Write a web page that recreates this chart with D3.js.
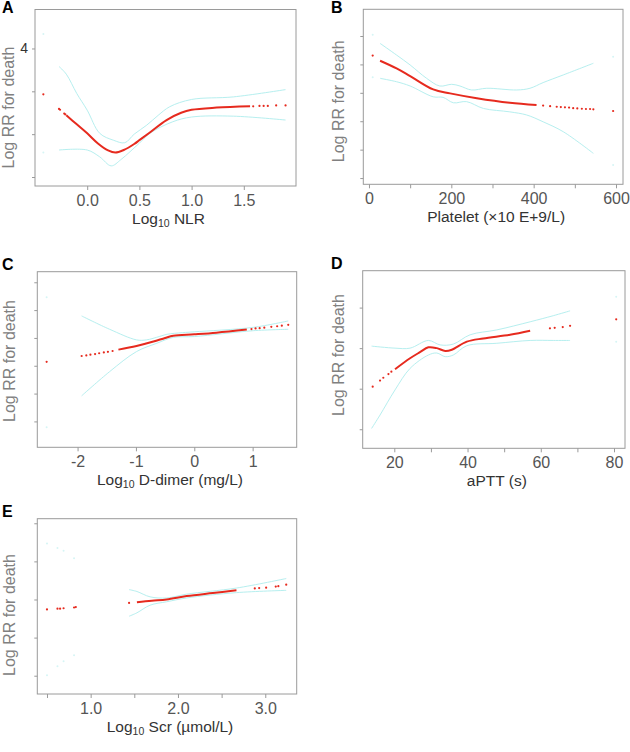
<!DOCTYPE html>
<html><head><meta charset="utf-8">
<script src="https://cdn.jsdelivr.net/npm/d3@7"></script>
<style>body{margin:0;background:#fff}svg{display:block}</style>
</head><body>
<svg id="chart" width="630" height="752"></svg>
<script>
// ---------- Panel A : Log10 NLR ----------
const A_x   = [-0.20,-0.10,0.00,0.10,0.20,0.27,0.35,0.45,0.50,0.60,0.76,0.90,1.00,1.24,1.56];
const A_fit = [2.44,2.23,2.02,1.79,1.62,1.57,1.63,1.77,1.86,2.04,2.33,2.50,2.57,2.62,2.65];
const A_ciX = [-0.27,-0.20,-0.10,0.00,0.12,0.25,0.36,0.45,0.57,0.68,0.79,1.00,1.40,1.90];
const A_hi  = [3.58,3.40,2.95,2.56,2.02,1.86,1.80,2.00,2.21,2.44,2.64,2.81,2.87,3.04];
const A_loX = [-0.27,0.00,0.12,0.23,0.32,0.41,0.50,0.60,0.82,1.00,1.40,1.90];
const A_lo  = [1.63,1.63,1.47,1.26,1.40,1.59,1.79,2.02,2.29,2.40,2.42,2.33];
const A_dotX = [-0.42,-0.27,-0.26,-0.22,-0.21,1.59,1.65,1.69,1.73,1.81,1.90];
const A_dotY = [2.93,2.59,2.57,2.48,2.46,2.65,2.66,2.66,2.66,2.67,2.67];
const A_ciDotX = [-0.42], A_ciDotLo = [1.57], A_ciDotHi = [4.34];
const A_xTicks = [0,0.5,1.0,1.5], A_xTickLabels = ["0.0","0.5","1.0","1.5"];
const A_yTicks = [1,2,3,4], A_yTickLabels = ["","","","4"];

// ---------- Panel B : Platelet ----------
const B_x   = [27,67,100,156,197,262,342,407];
const B_fit = [5.13,4.86,4.59,4.12,3.98,3.81,3.65,3.57];
const B_ciX = [27,67,100,140,172,201,221,249,286,359,391,423,472,545];
const B_hi  = [5.74,5.33,4.98,4.51,4.24,4.30,4.24,4.10,4.16,4.10,4.16,4.36,4.63,5.04];
const B_loX = [27,67,100,156,180,205,237,278,342,383,423,472,545];
const B_lo  = [4.51,4.39,4.24,3.86,3.84,3.65,3.69,3.45,3.33,3.22,2.98,2.63,1.87];
const B_dotX = [9,423,440,456,466,476,486,496,506,517,527,537,545,593];
const B_dotY = [5.31,3.55,3.53,3.51,3.50,3.49,3.48,3.46,3.45,3.44,3.43,3.43,3.42,3.36];
const B_ciDotX = [9,593], B_ciDotLo = [4.55,1.46], B_ciDotHi = [6.04,5.27];
const B_xTicks = [0,100,200,300,400,500,600], B_xTickLabels = ["0","","200","","400","","600"];
const B_yTicks = [1,2,3,4,5,6], B_yTickLabels = ["","","","","",""];

// ---------- Panel C : Log10 D-dimer ----------
const C_x   = [-1.30,-0.99,-0.70,-0.50,-0.36,0.00,0.38,0.90];
const C_fit = [3.58,3.71,3.87,4.00,4.08,4.13,4.19,4.30];
const C_ciX = [-1.93,-1.45,-0.99,-0.82,-0.60,-0.47,-0.20,0.00,1.01,1.61];
const C_hi  = [4.79,4.31,3.93,3.93,4.05,4.13,4.19,4.22,4.38,4.61];
const C_loX = [-1.93,-1.45,-0.99,-0.64,-0.36,0.00,1.01,1.61];
const C_lo  = [1.92,2.79,3.51,3.81,4.02,4.05,4.26,4.31];
const C_dotX = [-2.53,-1.93,-1.85,-1.78,-1.70,-1.63,-1.55,-1.48,-1.40,0.98,1.05,1.12,1.20,1.32,1.42,1.50,1.61];
const C_dotY = [3.14,3.35,3.37,3.40,3.42,3.45,3.48,3.50,3.53,4.32,4.34,4.35,4.37,4.40,4.42,4.44,4.47];
const C_ciDotX = [-2.53], C_ciDotLo = [0.79], C_ciDotHi = [5.46];
const C_xTicks = [-2,-1,0,1], C_xTickLabels = ["-2","-1","0","1"];
const C_yTicks = [1,2,3,4,5,6], C_yTickLabels = ["","","","","",""];

// ---------- Panel D : aPTT ----------
const D_x   = [20.2,24.3,27.0,29.3,31.6,33.9,35.7,39.8,44.3,51.6,57.1];
const D_fit = [2.48,2.75,2.90,3.02,3.00,2.93,2.96,3.16,3.24,3.33,3.43];
const D_ciX = [13.8,20.2,24.3,29.3,32.5,36.1,40.7,48.0,57.1,63.4,68.0];
const D_hi  = [3.05,3.00,3.00,3.19,3.08,3.10,3.33,3.45,3.65,3.80,3.92];
const D_loX = [13.8,16.1,20.2,24.3,29.3,31.6,33.9,36.1,39.8,48.0,57.1,63.4,68.0];
const D_lo  = [1.02,1.35,1.97,2.50,2.83,2.88,2.79,2.83,3.06,3.12,3.19,3.19,3.19];
const D_dotX = [14.1,16.1,17.0,18.4,19.2,62.5,63.8,66.0,68.0,80.6];
const D_dotY = [2.05,2.20,2.27,2.36,2.42,3.49,3.50,3.52,3.55,3.71];
const D_ciDotX = [80.6], D_ciDotLo = [3.16], D_ciDotHi = [4.27];
const D_xTicks = [20,30,40,50,60,70,80], D_xTickLabels = ["20","","40","","60","","80"];
const D_yTicks = [1,2,3,4], D_yTickLabels = ["","","",""];

// ---------- Panel E : Log10 Scr ----------
const E_x   = [1.53,1.70,1.87,2.10,2.40,2.67];
const E_fit = [2.93,2.97,3.00,3.09,3.17,3.24];
const E_ciX = [1.44,1.53,1.68,1.87,2.10,2.67,3.24];
const E_hi  = [3.26,3.21,3.07,3.04,3.14,3.30,3.55];
const E_loX = [1.44,1.53,1.68,1.87,2.10,2.67,3.24];
const E_lo  = [2.56,2.65,2.85,2.94,3.04,3.18,3.24];
const E_dotX = [0.50,0.62,0.65,0.69,0.81,0.83,1.44,2.88,2.93,3.01,3.12,3.15,3.24];
const E_dotY = [2.74,2.76,2.76,2.77,2.79,2.80,2.91,3.29,3.30,3.31,3.34,3.35,3.39];
const E_ciDotX = [0.50,0.62,0.69,0.81], E_ciDotLo = [1.01,1.25,1.38,1.54], E_ciDotHi = [4.47,4.35,4.28,4.08];
const E_xTicks = [0.5,1.0,1.5,2.0,2.5,3.0], E_xTickLabels = ["","1.0","","2.0","","3.0"];
const E_yTicks = [1,2,3,4,5], E_yTickLabels = ["","","","",""];

const yTitle = "Log RR for death";

const panels = [
  {letter:"A", box:[35,9.5,296,186], xd:[-0.5,2.0], yd:[0.79,4.91],
   x:A_x, fit:A_fit, ciX:A_ciX, hi:A_hi, loX:A_loX, lo:A_lo, dotX:A_dotX, dotY:A_dotY,
   ciDotX:A_ciDotX, ciDotLo:A_ciDotLo, ciDotHi:A_ciDotHi,
   xt:A_xTicks, xtl:A_xTickLabels, yt:A_yTicks, ytl:A_yTickLabels,
   title:["Log","10"," NLR"], ylab:[14,107.5]},
  {letter:"B", box:[363.3,9.3,623,184.3], xd:[-13.8,617], yd:[0.78,6.94],
   x:B_x, fit:B_fit, ciX:B_ciX, hi:B_hi, loX:B_loX, lo:B_lo, dotX:B_dotX, dotY:B_dotY,
   ciDotX:B_ciDotX, ciDotLo:B_ciDotLo, ciDotHi:B_ciDotHi,
   xt:B_xTicks, xtl:B_xTickLabels, yt:B_yTicks, ytl:B_yTickLabels,
   title:["Platelet (×10 E+9/L)"], ylab:[343.5,101.3]},
  {letter:"C", box:[37.3,271.7,296.7,447.3], xd:[-2.69,1.755], yd:[0.07,6.38],
   x:C_x, fit:C_fit, ciX:C_ciX, hi:C_hi, loX:C_loX, lo:C_lo, dotX:C_dotX, dotY:C_dotY,
   ciDotX:C_ciDotX, ciDotLo:C_ciDotLo, ciDotHi:C_ciDotHi,
   xt:C_xTicks, xtl:C_xTickLabels, yt:C_yTicks, ytl:C_yTickLabels,
   title:["Log","10"," D-dimer (mg/L)"], ylab:[14.5,361]},
  {letter:"D", box:[362.7,270.7,625,448.3], xd:[11.37,83.0], yd:[0.53,4.91],
   x:D_x, fit:D_fit, ciX:D_ciX, hi:D_hi, loX:D_loX, lo:D_lo, dotX:D_dotX, dotY:D_dotY,
   ciDotX:D_ciDotX, ciDotLo:D_ciDotLo, ciDotHi:D_ciDotHi,
   xt:D_xTicks, xtl:D_xTickLabels, yt:D_yTicks, ytl:D_yTickLabels,
   title:["aPTT (s)"], ylab:[344,355]},
  {letter:"E", box:[37.3,518.7,296.7,694], xd:[0.389,3.36], yd:[0.52,5.12],
   x:E_x, fit:E_fit, ciX:E_ciX, hi:E_hi, loX:E_loX, lo:E_lo, dotX:E_dotX, dotY:E_dotY,
   ciDotX:E_ciDotX, ciDotLo:E_ciDotLo, ciDotHi:E_ciDotHi,
   xt:E_xTicks, xtl:E_xTickLabels, yt:E_yTicks, ytl:E_yTickLabels,
   title:["Log","10"," Scr (µmol/L)"], ylab:[14.5,615]}
];

const svg = d3.select("#chart");
const FONT = "'Liberation Sans', Arial, Helvetica, sans-serif";
const RED = "#e62a1e", CYAN = "#b6efef", BOX = "#9a9a9a";

panels.forEach(p => {
  const [l,t,r,b] = p.box;
  const x = d3.scaleLinear().domain(p.xd).range([l,r]);
  const y = d3.scaleLinear().domain(p.yd).range([b,t]);
  const g = svg.append("g");

  g.append("rect").attr("x",l).attr("y",t).attr("width",r-l).attr("height",b-t)
    .attr("fill","none").attr("stroke",BOX).attr("stroke-width",1);

  const xa = d3.axisBottom(x).tickValues(p.xt).tickSize(4).tickPadding(4.5)
    .tickFormat((d,i)=>p.xtl[i]);
  const gx = g.append("g").attr("transform",`translate(0,${b})`).call(xa);
  const ya = d3.axisLeft(y).tickValues(p.yt).tickSize(3).tickPadding(4)
    .tickFormat((d,i)=>p.ytl[i]);
  const gy = g.append("g").attr("transform",`translate(${l},0)`).call(ya);
  [gx,gy].forEach(ax=>{
    ax.select(".domain").remove();
    ax.selectAll(".tick line").attr("stroke",BOX);
    ax.selectAll(".tick text").attr("font-family",FONT).attr("fill","#555");
  });
  gx.selectAll(".tick text").attr("font-size",16).attr("dy","0.71em");
  gy.selectAll(".tick text").attr("font-size",14).attr("fill","#333");

  const line = d3.line().curve(d3.curveCatmullRom.alpha(0.5));
  g.append("path").attr("d", line(p.ciX.map((v,i)=>[x(v),y(p.hi[i])])))
    .attr("fill","none").attr("stroke",CYAN).attr("stroke-width",1);
  g.append("path").attr("d", line(p.loX.map((v,i)=>[x(v),y(p.lo[i])])))
    .attr("fill","none").attr("stroke",CYAN).attr("stroke-width",1);
  p.ciDotX.forEach((v,i)=>{
    [p.ciDotLo[i],p.ciDotHi[i]].forEach(w=>{
      g.append("circle").attr("cx",x(v)).attr("cy",y(w)).attr("r",1)
        .attr("fill","#d6f5f5");
    });
  });
  g.append("path").attr("d", line(p.x.map((v,i)=>[x(v),y(p.fit[i])])))
    .attr("fill","none").attr("stroke",RED).attr("stroke-width",2);
  g.selectAll(null).data(p.dotX).enter().append("circle")
    .attr("cx",d=>x(d)).attr("cy",(d,i)=>y(p.dotY[i])).attr("r",1.1).attr("fill",RED);

  svg.append("text").attr("x", l<100 ? 2 : 331).attr("y", t-(p.letter==="A"||p.letter==="B"?-3.5:1.5))
    .attr("font-family",FONT).attr("font-weight","bold").attr("font-size",16)
    .attr("fill","#000").text(p.letter);

  const tt = svg.append("text").attr("x",(l+r)/2+3).attr("y",b+37.5)
    .attr("text-anchor","middle").attr("font-family",FONT).attr("font-size",15.5).attr("fill","#333");
  if (p.title.length === 3) {
    tt.append("tspan").text(p.title[0]);
    tt.append("tspan").attr("font-size",10.5).attr("dy",3).text(p.title[1]);
    tt.append("tspan").attr("dy",-3).text(p.title[2]);
  } else tt.text(p.title[0]);

  svg.append("text").attr("transform",`translate(${p.ylab[0]},${p.ylab[1]}) rotate(-90)`)
    .attr("text-anchor","middle").attr("font-family",FONT).attr("font-size",16)
    .attr("fill","#808080").text(yTitle);
});
</script>
</body></html>
